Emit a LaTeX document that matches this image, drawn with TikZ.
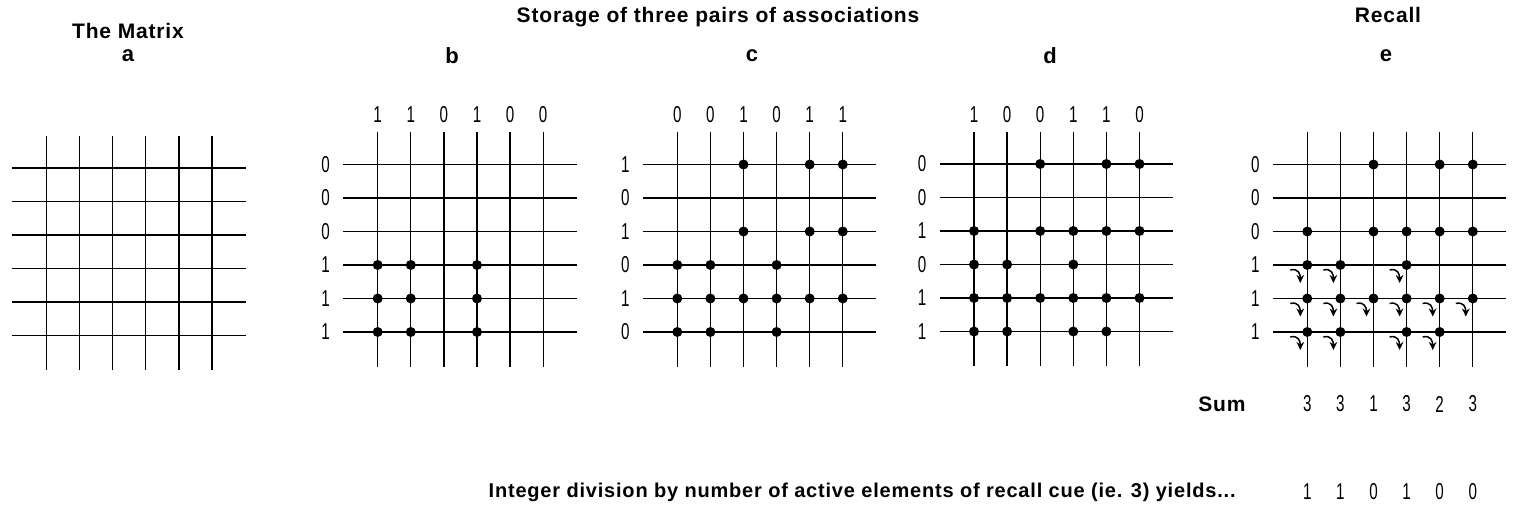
\documentclass[tikz,border=0pt]{standalone}
\usepackage{fontspec}
\newfontfamily\headfont[LetterSpace=4]{Liberation Sans}
\newfontfamily\digitfont[FakeStretch=0.66]{Liberation Sans}
\usetikzlibrary{arrows.meta, calc}
\tikzset{
  wire/.style={line width=0.65pt},
  cell/.style={fill=black},
  heading/.style={font=\headfont\bfseries\fontsize{10.5}{12}\selectfont, inner sep=0pt},
  letter/.style={font=\headfont\bfseries\fontsize{11}{13}\selectfont, inner sep=0pt},
  digit/.style={font=\digitfont\fontsize{11.5}{13}\selectfont, inner sep=0pt},
  recall/.style={-{Stealth[length=4pt,width=3.8pt]}, line width=0.75pt}
}

\begin{document}
\begin{tikzpicture}[x=0.5pt, y=-0.5pt]
    \path[fill=white, use as bounding box] (0,0) rectangle (1517,506);

    % titles
    \node[heading] (matrixtitle) at (128,31) {The Matrix};
    \node[heading] (storetitle) at (718,17) {Storage of three pairs of associations};
    \node[heading] (recalltitle) at (1388,15) {Recall};
    \foreach \name/\lx in {a/128, b/452, c/752, d/1050, e/1386}
        \node[letter] (lab-\name) at (\lx,56) {\name};

    % the five grids, with named crossings
    \foreach \name/\gx/\gy in {a/46.5/168, b/377.7/164.5, c/677.3/164.5, d/974/164, e/1307.3/164.5} {
        \foreach \i in {0,...,5} {
            \draw[wire] (\gx+\i*33.1, \gy-32) -- (\gx+\i*33.1, \gy+202.5);
            \draw[wire] (\gx-34.5, \gy+\i*33.5) -- (\gx+199, \gy+\i*33.5);
        }
        \foreach \r in {1,...,6}
            \foreach \c in {1,...,6}
                \coordinate (\name-\r-\c) at (\gx+\c*33.1-33.1, \gy+\r*33.5-33.5);
    }

    % cue (rows) and target (columns) patterns
    \foreach \name/\bits in {b/{0,0,0,1,1,1}, c/{1,0,1,0,1,0}, d/{0,0,1,0,1,1}, e/{0,0,0,1,1,1}}
        \foreach \v [count=\r] in \bits
            \node[digit] (row-\name-\r) at ($(\name-\r-1)+(-52,0)$) {\v};
    \foreach \name/\bits in {b/{1,1,0,1,0,0}, c/{0,0,1,0,1,1}, d/{1,0,0,1,1,0}}
        \foreach \v [count=\c] in \bits
            \node[digit] (col-\name-\c) at (\name-1-\c |- 0,115) {\v};

    % stored connections
    \foreach \p in {b-4-1, b-4-2, b-4-4, b-5-1, b-5-2, b-5-4, b-6-1, b-6-2, b-6-4}
        \fill[cell] (\p) circle (5);
    \foreach \p in {c-1-3, c-1-5, c-1-6, c-3-3, c-3-5, c-3-6, c-4-1, c-4-2, c-4-4,
                    c-5-1, c-5-2, c-5-3, c-5-4, c-5-5, c-5-6, c-6-1, c-6-2, c-6-4}
        \fill[cell] (\p) circle (5);
    \foreach \name in {d, e}
        \foreach \rc in {1-3, 1-5, 1-6, 3-1, 3-3, 3-4, 3-5, 3-6, 4-1, 4-2, 4-4,
                         5-1, 5-2, 5-3, 5-4, 5-5, 5-6, 6-1, 6-2, 6-4, 6-5}
            \fill[cell] (\name-\rc) circle (5);

    % active crossings during recall
    \foreach \p in {e-4-1, e-4-2, e-4-4, e-5-1, e-5-2, e-5-3, e-5-4, e-5-5, e-5-6,
                    e-6-1, e-6-2, e-6-4, e-6-5}
        \draw[recall] ($(\p)+(-17,5)$) .. controls ($(\p)+(-9,3)$) and ($(\p)+(-7,9)$) .. ($(\p)+(-7,18)$);

    % sums and result
    \node[heading, anchor=east] (sumlabel) at (1246,404) {Sum};
    \foreach \v [count=\c] in {3,3,1,3,2,3}
        \node[digit] (sum-\c) at (e-1-\c |- 0,404) {\v};
    \node[heading, font=\headfont\bfseries\fontsize{10}{12}\selectfont, anchor=east] (divlabel) at (1236,492) {Integer division by number of active elements of recall cue (ie. 3) yields...};
    \foreach \v [count=\c] in {1,1,0,1,0,0}
        \node[digit] (out-\c) at (e-1-\c |- 0,492) {\v};
\end{tikzpicture}
\end{document}
